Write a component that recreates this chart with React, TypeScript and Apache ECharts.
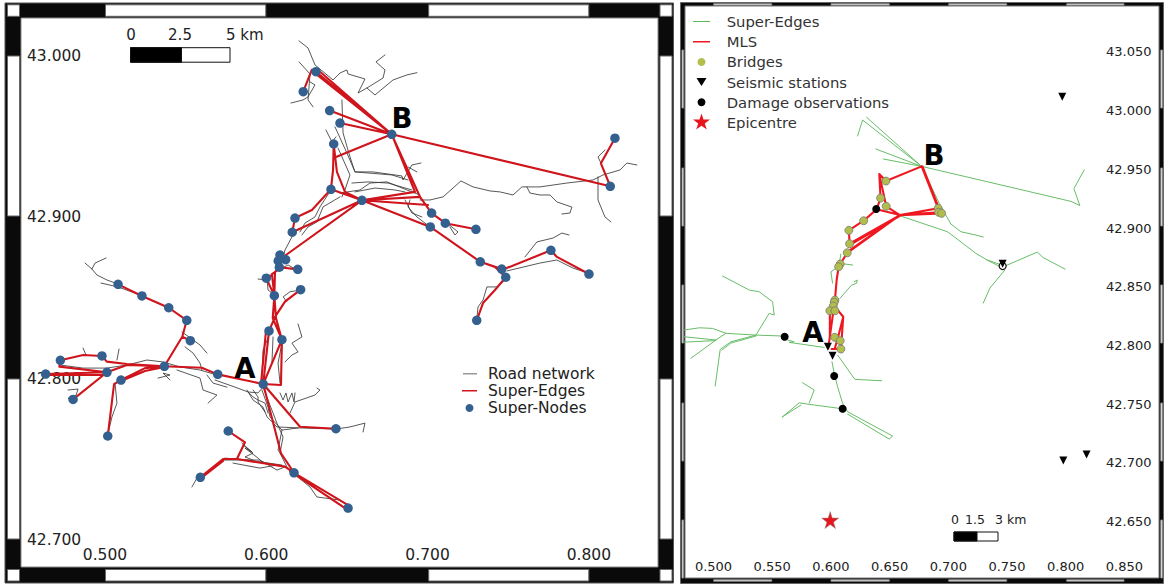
import React, { useEffect, useRef } from "react";
import * as echarts from "echarts";

type P = [number, number];

const leftLonTicks = [0.5, 0.6, 0.7, 0.8];
const leftLatTicks = [42.7, 42.8, 42.9, 43.0];
const rightLonTicks = [0.5, 0.55, 0.6, 0.65, 0.7, 0.75, 0.8, 0.85];
const rightLatTicks = [42.65, 42.7, 42.75, 42.8, 42.85, 42.9, 42.95, 43.0, 43.05];

const superNodes: P[] = [
  [0.6308, 42.9902], [0.6229, 42.9778], [0.6393, 42.9661], [0.6457, 42.9584], [0.6418, 42.9454], [0.6401, 42.9173],
  [0.6178, 42.8995], [0.6161, 42.8907], [0.6085, 42.8766], [0.6074, 42.8729], [0.612, 42.8737], [0.6081, 42.869],
  [0.6195, 42.8677], [0.6, 42.8622], [0.605, 42.8514], [0.6213, 42.8551], [0.5081, 42.8584], [0.5229, 42.8512],
  [0.5395, 42.8439], [0.5507, 42.8361], [0.5529, 42.8235], [0.4723, 42.8113], [0.4981, 42.814], [0.4632, 42.8028],
  [0.5012, 42.8039], [0.5368, 42.8076], [0.5699, 42.8026], [0.5099, 42.7991], [0.4802, 42.7871], [0.5017, 42.7644],
  [0.5981, 42.7966], [0.6017, 42.8295], [0.6097, 42.8241], [0.6432, 42.7689], [0.5764, 42.7675], [0.6172, 42.7416],
  [0.5591, 42.7388], [0.6507, 42.7197], [0.6778, 42.9514], [0.8162, 42.949], [0.8133, 42.9192], [0.6593, 42.9105],
  [0.7025, 42.9026], [0.711, 42.8963], [0.73, 42.8925], [0.7017, 42.894], [0.7327, 42.8724], [0.746, 42.8679],
  [0.7485, 42.8628], [0.7765, 42.8795], [0.8001, 42.8648], [0.7305, 42.8361],
];

const superEdges: P[][] = [
  [[0.6308, 42.9902], [0.6778, 42.9514]],
  [[0.6308, 42.9888], [0.6778, 42.9514]],
  [[0.6321, 42.9913], [0.6778, 42.9514]],
  [[0.6229, 42.9778], [0.6282, 42.9913], [0.6308, 42.9902]],
  [[0.6393, 42.9661], [0.6778, 42.9514]],
  [[0.6457, 42.9584], [0.6778, 42.9514]],
  [[0.6778, 42.9514], [0.6432, 42.9374]],
  [[0.6418, 42.9454], [0.6414, 42.9293], [0.6401, 42.9173]],
  [[0.6418, 42.9454], [0.6438, 42.9281], [0.6488, 42.9157], [0.6593, 42.9105]],
  [[0.6401, 42.9173], [0.6593, 42.9105]],
  [[0.6401, 42.9173], [0.6283, 42.9045], [0.6178, 42.8995]],
  [[0.6178, 42.8995], [0.6161, 42.8907]],
  [[0.6161, 42.8907], [0.6593, 42.9105]],
  [[0.6593, 42.9105], [0.6122, 42.8766], [0.612, 42.8737]],
  [[0.6593, 42.9105], [0.7017, 42.894]],
  [[0.6593, 42.9105], [0.6922, 42.9157]],
  [[0.6593, 42.9105], [0.6953, 42.9126]],
  [[0.6593, 42.9105], [0.7003, 42.9076]],
  [[0.6778, 42.9514], [0.6953, 42.9126], [0.7025, 42.9026]],
  [[0.6778, 42.9514], [0.6922, 42.9157]],
  [[0.6778, 42.9514], [0.6934, 42.9169], [0.6953, 42.9126]],
  [[0.6778, 42.9514], [0.8133, 42.9192]],
  [[0.8133, 42.9192], [0.8075, 42.9334], [0.8162, 42.949]],
  [[0.7025, 42.9026], [0.711, 42.8963], [0.73, 42.8925]],
  [[0.7017, 42.894], [0.7327, 42.8724], [0.746, 42.8679]],
  [[0.7327, 42.8724], [0.7418, 42.8692], [0.7485, 42.8628]],
  [[0.7485, 42.8628], [0.7418, 42.8549], [0.7344, 42.8468], [0.7305, 42.8361]],
  [[0.7461, 42.8673], [0.7765, 42.8795], [0.7802, 42.8754], [0.8001, 42.8648]],
  [[0.6085, 42.8766], [0.612, 42.8737], [0.6074, 42.8729], [0.6081, 42.869]],
  [[0.6081, 42.869], [0.6195, 42.8677]],
  [[0.6081, 42.869], [0.6054, 42.8661], [0.605, 42.8514]],
  [[0.6073, 42.8673], [0.6035, 42.8648], [0.605, 42.8514]],
  [[0.6, 42.8622], [0.605, 42.8514]],
  [[0.5999, 42.8623], [0.6035, 42.8642]],
  [[0.6213, 42.8551], [0.6116, 42.8477], [0.6054, 42.8382]],
  [[0.605, 42.8514], [0.604, 42.8375], [0.6096, 42.8243]],
  [[0.605, 42.8514], [0.606, 42.8375], [0.6097, 42.8241]],
  [[0.6017, 42.8295], [0.6054, 42.8382]],
  [[0.6017, 42.8295], [0.5981, 42.7966]],
  [[0.5998, 42.8295], [0.5967, 42.7966]],
  [[0.6097, 42.8241], [0.5981, 42.7966]],
  [[0.6097, 42.8241], [0.6091, 42.796], [0.5981, 42.7966]],
  [[0.5981, 42.7966], [0.5699, 42.8026]],
  [[0.5699, 42.8026], [0.56, 42.8067], [0.5368, 42.8076]],
  [[0.5981, 42.7966], [0.6209, 42.7701], [0.6432, 42.7689]],
  [[0.5981, 42.7966], [0.6091, 42.7537], [0.6172, 42.7416]],
  [[0.6172, 42.7416], [0.6507, 42.7216]],
  [[0.6147, 42.7427], [0.6488, 42.7197], [0.6507, 42.7197]],
  [[0.6172, 42.7416], [0.6116, 42.7454], [0.5817, 42.7501], [0.5732, 42.7501], [0.5591, 42.7388]],
  [[0.5732, 42.7489], [0.5595, 42.7383]],
  [[0.5764, 42.7675], [0.5868, 42.7605], [0.582, 42.7506]],
  [[0.5368, 42.8076], [0.5135, 42.809], [0.5011, 42.8105], [0.4981, 42.814]],
  [[0.4981, 42.814], [0.4865, 42.8146], [0.4723, 42.8113]],
  [[0.4723, 42.8113], [0.4717, 42.8074], [0.5012, 42.8039]],
  [[0.4632, 42.8028], [0.5012, 42.8039]],
  [[0.4632, 42.8022], [0.5012, 42.8022]],
  [[0.5012, 42.8039], [0.5136, 42.8084], [0.5368, 42.8076]],
  [[0.4802, 42.7871], [0.5012, 42.8039]],
  [[0.5099, 42.7991], [0.5248, 42.8065], [0.5368, 42.8076]],
  [[0.5099, 42.7985], [0.5248, 42.8047], [0.5368, 42.8072]],
  [[0.5099, 42.7991], [0.5056, 42.7966], [0.5017, 42.7644]],
  [[0.5368, 42.8076], [0.5479, 42.8259], [0.5529, 42.8235]],
  [[0.5479, 42.8259], [0.5507, 42.8361], [0.5395, 42.8439], [0.5229, 42.8512], [0.5081, 42.8584]],
];

const roadNetwork: P[][] = [
  [[0.6203, 43.0093], [0.6259, 43.0049], [0.6302, 42.9944], [0.6414, 42.9851], [0.6457, 42.9894], [0.65, 42.9913], [0.6507, 42.9888], [0.6612, 42.9857], [0.6569, 42.977], [0.6624, 42.9801], [0.6724, 42.9863], [0.6736, 42.9913], [0.668, 42.9963], [0.6736, 43.0006]],
  [[0.6624, 42.9801], [0.6674, 42.9758], [0.6786, 42.9851], [0.6872, 42.9882], [0.6934, 42.9896]],
  [[0.6203, 42.9963], [0.6271, 42.9888], [0.6259, 42.9727], [0.629, 42.9684]],
  [[0.6153, 42.9708], [0.6228, 42.9727], [0.6259, 42.9746], [0.6302, 42.982], [0.6271, 42.9839]],
  [[0.6469, 42.9727], [0.6476, 42.9522], [0.6519, 42.9374], [0.655, 42.9281], [0.6662, 42.9281], [0.6841, 42.9256], [0.6848, 42.9231], [0.6903, 42.9324], [0.6959, 42.9336]],
  [[0.637, 42.9541], [0.6407, 42.9467], [0.6432, 42.9498]],
  [[0.6426, 42.956], [0.65, 42.9398], [0.655, 42.9281], [0.6779, 42.9262], [0.6879, 42.9231]],
  [[0.6445, 42.9429], [0.6519, 42.9262], [0.6488, 42.9169], [0.6469, 42.9126]],
  [[0.6531, 42.9212], [0.6631, 42.9219], [0.6755, 42.9212], [0.6903, 42.9169]],
  [[0.655, 42.9157], [0.6674, 42.9181], [0.6798, 42.9169], [0.686, 42.9157]],
  [[0.6879, 42.9312], [0.6934, 42.9281]],
  [[0.686, 42.9107], [0.6903, 42.9026], [0.6965, 42.9002]],
  [[0.6953, 42.9107], [0.7015, 42.9107], [0.7096, 42.9126], [0.7158, 42.9181], [0.7207, 42.9225], [0.7282, 42.9188], [0.7387, 42.9163], [0.7449, 42.9157], [0.753, 42.9138], [0.7585, 42.9188], [0.7697, 42.9188], [0.7864, 42.9212], [0.8026, 42.9231], [0.8088, 42.9262], [0.8193, 42.9293], [0.8236, 42.9336], [0.8298, 42.9324]],
  [[0.7616, 42.9188], [0.7635, 42.915], [0.7697, 42.9138], [0.7759, 42.9138], [0.7802, 42.9095], [0.7895, 42.9063], [0.7883, 42.9026], [0.7833, 42.902]],
  [[0.8057, 42.925], [0.8057, 42.9107], [0.81, 42.9002], [0.8137, 42.8971]],
  [[0.8075, 42.9336], [0.8057, 42.9374], [0.81, 42.9417]],
  [[0.6457, 42.915], [0.6581, 42.9169], [0.6643, 42.9212], [0.6748, 42.9219], [0.6872, 42.9169], [0.6953, 42.9138]],
  [[0.6891, 42.9107], [0.6879, 42.9063], [0.6934, 42.9002], [0.7015, 42.894]],
  [[0.712, 42.8964], [0.7189, 42.8909], [0.717, 42.889], [0.7139, 42.894]],
  [[0.7604, 42.8754], [0.7678, 42.8847], [0.7778, 42.8871], [0.7833, 42.8902], [0.7877, 42.889]],
  [[0.7492, 42.8667], [0.7697, 42.8716], [0.7802, 42.8735], [0.7902, 42.8685], [0.7995, 42.8654]],
  [[0.748, 42.8611], [0.743, 42.8568], [0.7368, 42.8568], [0.7344, 42.8487], [0.7313, 42.8444], [0.7306, 42.8375]],
  [[0.6401, 42.9169], [0.6333, 42.9064], [0.6302, 42.9002], [0.624, 42.8964], [0.6209, 42.8909]],
  [[0.6457, 42.9126], [0.6352, 42.9064], [0.6314, 42.8971], [0.6259, 42.894], [0.6221, 42.889]],
  [[0.6159, 42.8878], [0.6116, 42.8797], [0.6104, 42.8747]],
  [[0.619, 42.8673], [0.6135, 42.8704], [0.6097, 42.8685]],
  [[0.4876, 42.8716], [0.4919, 42.8679], [0.495, 42.8642], [0.5012, 42.8611], [0.5081, 42.8586]],
  [[0.4919, 42.8679], [0.4938, 42.8716], [0.5006, 42.8747]],
  [[0.4975, 42.8592], [0.5081, 42.8568], [0.5217, 42.8518]],
  [[0.6213, 42.8549], [0.6147, 42.8538], [0.6105, 42.8507], [0.6127, 42.8476]],
  [[0.5949, 42.8617], [0.6005, 42.8611], [0.6011, 42.8549], [0.6035, 42.853]],
  [[0.6197, 42.8338], [0.6221, 42.8258], [0.6159, 42.822], [0.6197, 42.8165], [0.6159, 42.8146], [0.6116, 42.8103]],
  [[0.6023, 42.8282], [0.598, 42.8177], [0.5973, 42.801], [0.598, 42.7973]],
  [[0.6097, 42.822], [0.6073, 42.8096], [0.6085, 42.7973]],
  [[0.6042, 42.8258], [0.6035, 42.8096]],
  [[0.5682, 42.7991], [0.5806, 42.7947], [0.5887, 42.7917], [0.5949, 42.7911], [0.598, 42.7947]],
  [[0.5887, 42.7917], [0.5918, 42.7886], [0.5949, 42.7867], [0.5992, 42.7848], [0.6011, 42.7786]],
  [[0.5918, 42.7929], [0.5949, 42.7886], [0.5949, 42.7855], [0.5992, 42.7793]],
  [[0.5973, 42.7929], [0.6011, 42.7823], [0.6023, 42.7762], [0.6097, 42.7681], [0.6197, 42.7694]],
  [[0.588, 42.7929], [0.5918, 42.7867], [0.598, 42.7823], [0.6005, 42.7762], [0.6066, 42.77], [0.6209, 42.7694], [0.6432, 42.7687], [0.6519, 42.77], [0.6612, 42.7724], [0.66, 42.7669]],
  [[0.598, 42.7947], [0.6066, 42.7724], [0.6104, 42.7638], [0.6085, 42.7538], [0.6128, 42.7452]],
  [[0.6097, 42.7681], [0.6073, 42.7557], [0.6104, 42.7513]],
  [[0.6085, 42.7911], [0.6104, 42.7867], [0.6122, 42.7911], [0.6135, 42.7855], [0.6159, 42.7911], [0.6172, 42.7855], [0.6178, 42.7911]],
  [[0.6147, 42.7786], [0.6178, 42.7855], [0.6302, 42.7898], [0.6333, 42.7929], [0.6314, 42.7941]],
  [[0.5756, 42.7947], [0.567, 42.7972], [0.5632, 42.8022]],
  [[0.5446, 42.8053], [0.5589, 42.8003], [0.5608, 42.7929], [0.5694, 42.7898], [0.5639, 42.7848]],
  [[0.5477, 42.8289], [0.5589, 42.8208], [0.5632, 42.8158]],
  [[0.5496, 42.8196], [0.5546, 42.8158], [0.5589, 42.8096], [0.5601, 42.8053]],
  [[0.4864, 42.8189], [0.4882, 42.8146]],
  [[0.5087, 42.8183], [0.5074, 42.8115]],
  [[0.4721, 42.8084], [0.4864, 42.8065], [0.5012, 42.8065], [0.5136, 42.8084], [0.526, 42.8115], [0.536, 42.8103], [0.5465, 42.8072], [0.5589, 42.8053], [0.5694, 42.8022]],
  [[0.5329, 42.8003], [0.5403, 42.8022], [0.536, 42.8034], [0.5403, 42.7991]],
  [[0.4771, 42.7929], [0.4833, 42.7935], [0.4814, 42.7879], [0.4771, 42.7879], [0.4795, 42.7855]],
  [[0.5062, 42.7972], [0.5074, 42.7848], [0.5043, 42.7762], [0.5019, 42.7662]],
  [[0.5725, 42.7495], [0.5961, 42.7495], [0.6066, 42.7433], [0.6116, 42.7452]],
  [[0.5794, 42.7476], [0.5961, 42.7445], [0.6066, 42.7464]],
  [[0.5744, 42.7507], [0.5887, 42.7495], [0.6097, 42.7464]],
  [[0.5856, 42.7588], [0.5911, 42.7545], [0.5868, 42.7569], [0.5949, 42.7507], [0.598, 42.7476]],
  [[0.5849, 42.76], [0.5918, 42.7538], [0.5868, 42.7514], [0.5918, 42.7495]],
  [[0.5539, 42.7328], [0.557, 42.7383], [0.5632, 42.742]],
  [[0.6166, 42.7414], [0.6271, 42.7328], [0.6314, 42.7266], [0.6457, 42.7247]],
];

const greenEdges: P[][] = [
  [[0.6227, 42.9784], [0.627, 42.992], [0.6773, 42.9525]],
  [[0.6304, 42.9943], [0.6773, 42.9525]],
  [[0.6383, 42.9673], [0.6773, 42.9525]],
  [[0.6446, 42.9588], [0.6773, 42.9525]],
  [[0.6773, 42.9525], [0.8045, 42.9227], [0.8121, 42.9191], [0.807, 42.9335], [0.8158, 42.9495]],
  [[0.6773, 42.9525], [0.6923, 42.921], [0.7022, 42.9034], [0.7108, 42.8968], [0.7235, 42.894], [0.7298, 42.8923]],
  [[0.6568, 42.9111], [0.6994, 42.8968], [0.7235, 42.8784], [0.7327, 42.8729], [0.7482, 42.8676]],
  [[0.7327, 42.8729], [0.7465, 42.8659]],
  [[0.7482, 42.8642], [0.7355, 42.8489], [0.7298, 42.8361]],
  [[0.7482, 42.8676], [0.7758, 42.8795], [0.7809, 42.8748], [0.7996, 42.8649]],
  [[0.6085, 42.8778], [0.6071, 42.8699], [0.6185, 42.8685]],
  [[0.6043, 42.8656], [0.6, 42.8627], [0.6014, 42.8531]],
  [[0.6077, 42.8401], [0.6176, 42.8514], [0.6219, 42.8529], [0.6224, 42.8557], [0.6199, 42.8542]],
  [[0.5077, 42.8591], [0.5304, 42.8472], [0.5389, 42.8457], [0.5503, 42.8372], [0.5517, 42.8259], [0.5474, 42.8273], [0.5361, 42.8088]],
  [[0.475, 42.8131], [0.4878, 42.815], [0.4992, 42.8145], [0.5105, 42.8103], [0.5361, 42.8088], [0.5588, 42.808]],
  [[0.475, 42.8074], [0.502, 42.8046], [0.5105, 42.8103]],
  [[0.475, 42.8028], [0.4992, 42.804], [0.502, 42.8046]],
  [[0.502, 42.8046], [0.4807, 42.789]],
  [[0.5014, 42.7654], [0.5057, 42.7966], [0.5148, 42.8031], [0.5361, 42.8088]],
  [[0.5071, 42.796], [0.5148, 42.802], [0.5361, 42.808]],
  [[0.5631, 42.8046], [0.5687, 42.8031], [0.5645, 42.8026], [0.5943, 42.7983]],
  [[0.6009, 42.7861], [0.6028, 42.7762], [0.6057, 42.7648], [0.61, 42.7506], [0.6142, 42.7435], [0.6526, 42.7228], [0.6497, 42.7202], [0.6142, 42.7415]],
  [[0.6057, 42.7918], [0.6204, 42.7711], [0.6432, 42.7699]],
  [[0.61, 42.746], [0.5801, 42.75], [0.573, 42.7511], [0.5588, 42.7392]],
  [[0.5744, 42.7492], [0.5588, 42.7392]],
  [[0.5759, 42.7682], [0.5858, 42.762], [0.5815, 42.7511]],
];

const mlsEdges: P[][] = [
  [[0.6773, 42.9525], [0.6469, 42.94], [0.6412, 42.946]],
  [[0.6412, 42.946], [0.6423, 42.9255], [0.6389, 42.9159]],
  [[0.6412, 42.946], [0.6471, 42.9185], [0.6588, 42.911]],
  [[0.6389, 42.9159], [0.6588, 42.911]],
  [[0.6389, 42.9159], [0.6279, 42.9062], [0.6153, 42.898], [0.6159, 42.8866], [0.6588, 42.911]],
  [[0.6159, 42.8855], [0.6588, 42.9104]],
  [[0.6139, 42.8789], [0.6588, 42.911]],
  [[0.6139, 42.8795], [0.6571, 42.9102]],
  [[0.6139, 42.8789], [0.6066, 42.867], [0.6049, 42.8557], [0.6034, 42.8386], [0.5991, 42.8074], [0.5977, 42.7977]],
  [[0.6034, 42.8329], [0.6105, 42.8244], [0.6062, 42.8074], [0.6034, 42.7977]],
  [[0.6105, 42.8244], [0.6091, 42.8046], [0.6085, 42.7969], [0.6006, 42.7969]],
  [[0.5991, 42.8295], [0.5991, 42.8074]],
  [[0.6773, 42.9525], [0.6914, 42.9168]],
  [[0.678, 42.9525], [0.6921, 42.9168]],
  [[0.6588, 42.911], [0.6914, 42.9168]],
  [[0.6588, 42.911], [0.6918, 42.9134]],
  [[0.6588, 42.911], [0.6943, 42.9125]],
];

const bridges: P[] = [
  [0.6469, 42.94], [0.6423, 42.9255], [0.6471, 42.9185], [0.6279, 42.9062], [0.6153, 42.898], [0.6159, 42.8866],
  [0.6139, 42.8789], [0.6079, 42.8693], [0.6066, 42.867], [0.6914, 42.9168], [0.6918, 42.9134], [0.6943, 42.9125],
  [0.6034, 42.8386], [0.6028, 42.8367], [0.602, 42.8335], [0.5991, 42.8295], [0.6034, 42.8295], [0.6032, 42.8069],
  [0.6079, 42.804], [0.6085, 42.7969],
];
const damageObservations: P[] = [[0.5606, 42.8074], [0.6028, 42.7739], [0.61, 42.746], [0.6386, 42.9162]];
const hollowObservation: P[] = [[0.7463, 42.8676]];
const seismicStations: P[] = [[0.5974, 42.7988], [0.6014, 42.7912], [0.7463, 42.8696], [0.7971, 43.0118], [0.798, 42.7019], [0.8178, 42.707]];
const epicentre: P[] = [[0.5994, 42.6512]];

const STAR = "M8.5 0 L10.5 6.1 L17 6.1 L11.8 9.9 L13.8 16 L8.5 12.2 L3.2 16 L5.2 9.9 L0 6.1 L6.5 6.1 Z";
const SANS = "DejaVu Sans";

const withGaps = (lines: P[][]) => lines.flatMap((l) => [...l, ["-", "-"]]);
const icon = (body: string, w: number, h: number) =>
  `path://M0 0h.01v.01h-.01z M${w - 0.01} ${h - 0.01}h.01v.01h-.01z ${body}`;

function frameShapes() {
  const out: any[] = [];
  const rect = (x: number, y: number, w: number, h: number, fill: string, stroke?: string) =>
    out.push({ type: "rect", z: -5, shape: { x, y, width: w, height: h }, style: { fill, stroke: stroke || undefined, lineWidth: 1 }, silent: true });
  // left panel
  rect(5, 3, 668.5, 580, "#0a0a0a", "#555");
  const lx: [number, number][] = [[105.5, 265.8], [428.7, 588.8]];
  lx.forEach(([a, b]) => {
    rect(a, 4.8, b - a, 11.5, "#fff", "#666");
    rect(a, 569.5, b - a, 11.5, "#fff", "#666");
  });
  const ly: [number, number][] = [[56, 216], [379, 539]];
  ly.forEach(([a, b]) => {
    rect(7.5, a, 12, b - a, "#fff", "#666");
    rect(660, a, 12, b - a, "#fff", "#666");
  });
  [[7.5, 4.8], [660, 4.8], [7.5, 569.5], [660, 569.5]].forEach(([x, y]) => rect(x, y, 12, 11.5, "#fff", "#666"));
  rect(21, 18, 637, 549, "#fff", "#888");
  // right panel
  rect(680.5, 2.5, 483, 581, "#0a0a0a", "#666");
  const rx: [number, number][] = [[713.7, 771.7], [831, 889.3], [948.7, 1006.7], [1066.7, 1124]];
  rx.forEach(([a, b]) => {
    rect(a, 3.8, b - a, 1.4, "#fff", "#888");
    rect(a, 579.8, b - a, 1.4, "#fff", "#888");
  });
  const ry: [number, number][] = [[50, 108], [168, 226], [285, 343], [403, 461], [520, 578]];
  ry.forEach(([a, b]) => {
    rect(682, a, 1.6, b - a, "#fff", "#888");
    rect(1160.8, a, 1.6, b - a, "#fff", "#888");
  });
  rect(685, 6, 474, 572, "#fff", "#777");
  return out;
}

function overlayShapes() {
  const out: any[] = [];
  const label = (x: number, y: number, text: string, size: number, weight = "normal", align = "center") =>
    out.push({ type: "text", z: 20, x, y, silent: true, style: { text, fontFamily: SANS, fontSize: size, fontWeight: weight, fill: weight === "bold" ? "#000" : "#222", textAlign: align, textVerticalAlign: "middle" } });
  const rect = (x: number, y: number, w: number, h: number, fill: string) =>
    out.push({ type: "rect", z: 20, silent: true, shape: { x, y, width: w, height: h }, style: { fill, stroke: "#111", lineWidth: 1 } });
  label(245, 368, "A", 27.5, "bold");
  label(402, 118, "B", 27.5, "bold");
  label(813, 332, "A", 27.5, "bold");
  label(934, 155, "B", 27.5, "bold");
  rect(130.5, 47.7, 99.5, 14.5, "#fff");
  rect(130.5, 47.7, 51, 14.5, "#000");
  label(131, 35, "0", 15);
  label(180, 35, "2.5", 15);
  label(226, 35, "5 km", 15, "normal", "left");
  rect(954, 532, 44, 9, "#fff");
  rect(954, 532, 23, 9, "#000");
  label(955, 519, "0", 12.5);
  label(975, 519, "1.5", 12.5);
  label(995, 519, "3 km", 12.5, "normal", "left");
  return out;
}

const RIGHT_EDGE = "Super-Edges (MLS map)";

export default function App() {
  const ref = useRef<HTMLDivElement>(null);
  useEffect(() => {
    document.body.style.margin = "0";
    const chart = echarts.init(ref.current!, undefined, { renderer: "svg" });
    const lonAxis = (i: number, min: number, max: number, ticks: number[], size: number, margin: number) => ({
      type: "value", gridIndex: i, min, max, position: "bottom", axisLine: { show: false }, axisTick: { show: false }, splitLine: { show: false },
      axisLabel: { inside: true, customValues: ticks, formatter: (v: number) => v.toFixed(3), fontFamily: SANS, fontSize: size, color: "#222", margin },
    });
    const latAxis = (i: number, min: number, max: number, ticks: number[], size: number, margin: number, position: string) => ({
      type: "value", gridIndex: i, min, max, position, axisLine: { show: false }, axisTick: { show: false }, splitLine: { show: false },
      axisLabel: { inside: true, customValues: ticks, formatter: (v: number) => v.toFixed(3), fontFamily: SANS, fontSize: size, color: "#222", margin },
    });
    const lines = (name: string, idx: number, data: P[][], color: string, width: number, z: number) => ({
      type: "line", name, xAxisIndex: idx, yAxisIndex: idx, data: withGaps(data), showSymbol: false, symbol: "none", connectNulls: false, z, silent: true,
      lineStyle: { color, width, cap: "round", join: "round" }, itemStyle: { color },
    });
    const points = (name: string, data: P[], symbol: string, size: number, color: string, z: number, extra: any = {}, idx = 1) => ({
      type: "scatter", name, xAxisIndex: idx, yAxisIndex: idx, data, symbol, symbolSize: size, z, silent: true, itemStyle: { color, opacity: 1, ...extra },
    });
    const flat = (color: string) => ({ color, borderWidth: 0, opacity: 1 });
    chart.setOption({
      animation: false,
      backgroundColor: "#fff",
      grid: [
        { left: 21, top: 18, width: 637, height: 549 },
        { left: 685, top: 6, width: 474, height: 572 },
      ],
      xAxis: [lonAxis(0, 0.4479, 0.8429, leftLonTicks, 15.5, 4), lonAxis(1, 0.4757, 0.8795, rightLonTicks, 13, 5)],
      yAxis: [latAxis(0, 42.6832, 43.0235, leftLatTicks, 15.5, 6, "left"), latAxis(1, 42.6019, 43.0891, rightLatTicks, 13, 7.5, "right")],
      legend: [
        {
          orient: "vertical", left: 462, top: 365.7, padding: 0, itemWidth: 21, itemHeight: 14, itemGap: 1.1, selectedMode: false,
          textStyle: { fontFamily: SANS, fontSize: 15.5, color: "#222", lineHeight: 14 },
          data: [
            { name: "Road network", icon: icon("M1 6.3H15V7.7H1z", 21, 14), itemStyle: flat("#999") },
            { name: "Super-Edges", icon: icon("M0 6.2H15V7.8H0z", 21, 14), itemStyle: flat("#d5141c") },
            { name: "Super-Nodes", icon: icon("M7.5 3 a4 4 0 1 0 .01 0z", 21, 14), itemStyle: flat("#33608f") },
          ],
        },
        {
          orient: "vertical", left: 693, top: 12.5, padding: 0, itemWidth: 28.7, itemHeight: 18, itemGap: 2.2, selectedMode: false,
          formatter: (n: string) => (n === RIGHT_EDGE ? "Super-Edges" : n),
          textStyle: { fontFamily: SANS, fontSize: 14.8, color: "#333", lineHeight: 18 },
          data: [
            { name: RIGHT_EDGE, icon: icon("M0 8.4H17V9.6H0z", 28.7, 18), itemStyle: flat("#5cb85c") },
            { name: "MLS", icon: icon("M0 8.2H17V9.8H0z", 28.7, 18), itemStyle: flat("#f01820") },
            { name: "Bridges", icon: icon("M8.5 5 a4 4 0 1 0 .01 0z", 28.7, 18), itemStyle: flat("#b3bd4c") },
            { name: "Seismic stations", icon: icon("M3.5 5H13.5L8.5 13z", 28.7, 18), itemStyle: flat("#000") },
            { name: "Damage observations", icon: icon("M8.5 5 a4 4 0 1 0 .01 0z", 28.7, 18), itemStyle: flat("#000") },
            { name: "Epicentre", icon: icon(STAR, 28.7, 18), itemStyle: flat("#e8141c") },
          ],
        },
      ],
      graphic: { elements: [...frameShapes(), ...overlayShapes()] },
      series: [
        lines("Road network", 0, roadNetwork, "#3a3a3a", 0.85, 3),
        lines("Super-Edges", 0, superEdges, "#cf141c", 2.1, 4),
        points("Super-Nodes", superNodes, "circle", 9.5, "#33608f", 5, {}, 0),
        lines(RIGHT_EDGE, 1, greenEdges, "#68bd68", 1, 3),
        lines("MLS", 1, mlsEdges, "#f01820", 2.1, 4),
        points("Bridges", bridges, "circle", 8, "#b3bd4c", 5, { borderColor: "#777", borderWidth: 0.8 }),
        points("Damage observations", damageObservations, "circle", 8, "#000", 6),
        points("Damage hollow", hollowObservation, "circle", 7, "#fff", 6, { borderColor: "#111", borderWidth: 1.2 }),
        { ...points("Seismic stations", seismicStations, "triangle", 8, "#000", 7), symbolRotate: 180 },
        points("Epicentre", epicentre, "path://" + STAR, 17, "#e8141c", 7, { borderColor: "#888", borderWidth: 0.5 }),
      ],
    });
    return () => chart.dispose();
  }, []);
  return <div ref={ref} style={{ width: 1166, height: 586, position: "absolute", left: 0, top: 0 }} />;
}
